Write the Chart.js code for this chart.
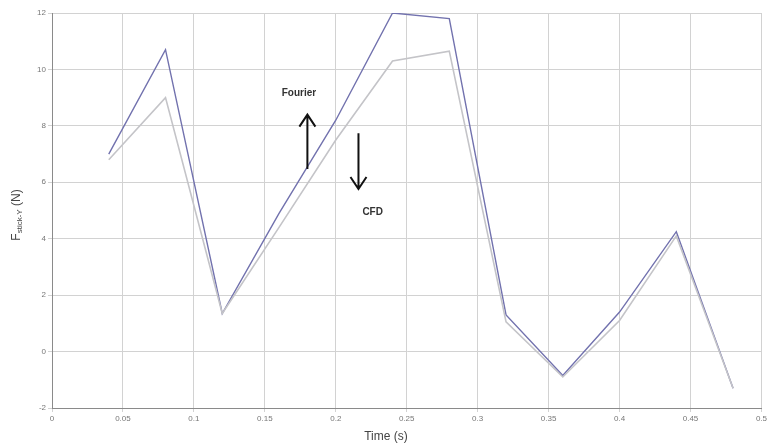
<!DOCTYPE html>
<html>
<head>
<meta charset="utf-8">
<script src="https://cdn.jsdelivr.net/npm/chart.js@4/dist/chart.umd.min.js"></script>
<style>
  html, body { margin: 0; padding: 0; background: #fff; }
  #wrap { width: 769px; height: 448px; position: relative; }
</style>
</head>
<body>
<div id="wrap"><canvas id="chart"></canvas></div>
<script>
// Data
const times = [0.04, 0.08, 0.12, 0.16, 0.20, 0.24, 0.28, 0.32, 0.36, 0.40, 0.44, 0.48];
const fourier = [7.0, 10.7, 1.35, 4.9, 8.2, 12.0, 11.8, 1.3, -0.85, 1.4, 4.25, -1.3];
const cfd = [6.8, 9.0, 1.35, 4.4, 7.5, 10.3, 10.65, 1.05, -0.9, 1.1, 4.1, -1.3];

const xTicks = [0, 0.05, 0.1, 0.15, 0.2, 0.25, 0.3, 0.35, 0.4, 0.45, 0.5];
const yTicks = [-2, 0, 2, 4, 6, 8, 10, 12];

// annotation spots, in data units
const notes = [
  { text: 'Fourier', x: 0.174, y: 9.15 },
  { text: 'CFD', x: 0.226, y: 4.95 }
];
const arrows = [
  { x: 0.180, from: 6.47, to: 8.4 },
  { x: 0.216, from: 7.74, to: 5.76 }
];

function toPoints(vals) {
  return vals.map((v, i) => ({ x: times[i], y: v }));
}

// Axis titles + arrows drawn by hand
const extras = {
  id: 'extras',
  afterDraw(chart) {
    const { ctx, scales } = chart;
    const xs = scales.x, ys = scales.y;
    ctx.save();

    // arrows
    ctx.strokeStyle = '#111';
    ctx.lineWidth = 2;
    arrows.forEach(a => {
      const px = xs.getPixelForValue(a.x);
      const y0 = ys.getPixelForValue(a.from);
      const y1 = ys.getPixelForValue(a.to);
      const dir = y1 < y0 ? 1 : -1;
      ctx.beginPath();
      ctx.moveTo(px, y0);
      ctx.lineTo(px, y1);
      ctx.moveTo(px - 8, y1 + dir * 12);
      ctx.lineTo(px, y1);
      ctx.lineTo(px + 8, y1 + dir * 12);
      ctx.stroke();
    });

    // labels near arrows
    ctx.fillStyle = '#333';
    ctx.font = 'bold 10px "Liberation Sans", Arial, sans-serif';
    ctx.textAlign = 'center';
    ctx.textBaseline = 'middle';
    notes.forEach(n => {
      ctx.fillText(n.text, xs.getPixelForValue(n.x), ys.getPixelForValue(n.y));
    });

    // x title
    ctx.fillStyle = '#444';
    ctx.font = '12px "Liberation Sans", Arial, sans-serif';
    ctx.fillText('Time (s)', 386, 437);

    // y title with subscript
    ctx.translate(17, 215);
    ctx.rotate(-Math.PI / 2);
    const big = '12px "Liberation Sans", Arial, sans-serif';
    const small = '8px "Liberation Sans", Arial, sans-serif';
    ctx.font = big;
    const wF = ctx.measureText('F').width;
    const wN = ctx.measureText(' (N)').width;
    ctx.font = small;
    const wS = ctx.measureText('stick-Y').width;
    let cx = -(wF + wS + wN) / 2;
    ctx.textAlign = 'left';
    ctx.font = big;
    ctx.fillText('F', cx, 0);
    cx += wF;
    ctx.font = small;
    ctx.fillText('stick-Y', cx, 3);
    cx += wS;
    ctx.font = big;
    ctx.fillText(' (N)', cx, 0);
    ctx.restore();
  }
};

new Chart(document.getElementById('chart'), {
  type: 'line',
  data: {
    datasets: [
      {
        label: 'CFD',
        data: toPoints(cfd),
        borderColor: '#c4c4c8',
        borderWidth: 1.6,
        pointRadius: 0,
        tension: 0
      },
      {
        label: 'Fourier',
        data: toPoints(fourier),
        borderColor: '#7272ae',
        borderWidth: 1.4,
        pointRadius: 0,
        tension: 0
      }
    ]
  },
  options: {
    responsive: true,
    maintainAspectRatio: false,
    animation: false,
    layout: { padding: { top: 13, right: 3, left: 0, bottom: 0 } },
    plugins: {
      legend: { display: false },
      tooltip: { enabled: false }
    },
    scales: {
      x: {
        type: 'linear',
        min: 0,
        max: 0.5,
        afterBuildTicks(scale) { scale.ticks = xTicks.map(v => ({ value: v })); },
        afterFit(scale) { scale.height = 40; },
        grid: { color: '#d2d2d2', lineWidth: 1, tickLength: 4, drawTicks: true },
        border: { color: '#8a8a8a', width: 1 },
        ticks: {
          color: '#777',
          font: { size: 8, family: '"Liberation Sans", Arial, sans-serif' },
          padding: 2,
          maxRotation: 0,
          autoSkip: false,
          callback: v => String(Number(v.toFixed(2)))
        }
      },
      y: {
        min: -2,
        max: 12,
        afterBuildTicks(scale) { scale.ticks = yTicks.map(v => ({ value: v })); },
        afterFit(scale) { scale.width = 52; },
        grid: { color: '#d2d2d2', lineWidth: 1, tickLength: 4 },
        border: { color: '#8a8a8a', width: 1 },
        ticks: {
          color: '#777',
          font: { size: 8, family: '"Liberation Sans", Arial, sans-serif' },
          padding: 2,
          autoSkip: false
        }
      }
    }
  },
  plugins: [extras]
});
</script>
</body>
</html>
